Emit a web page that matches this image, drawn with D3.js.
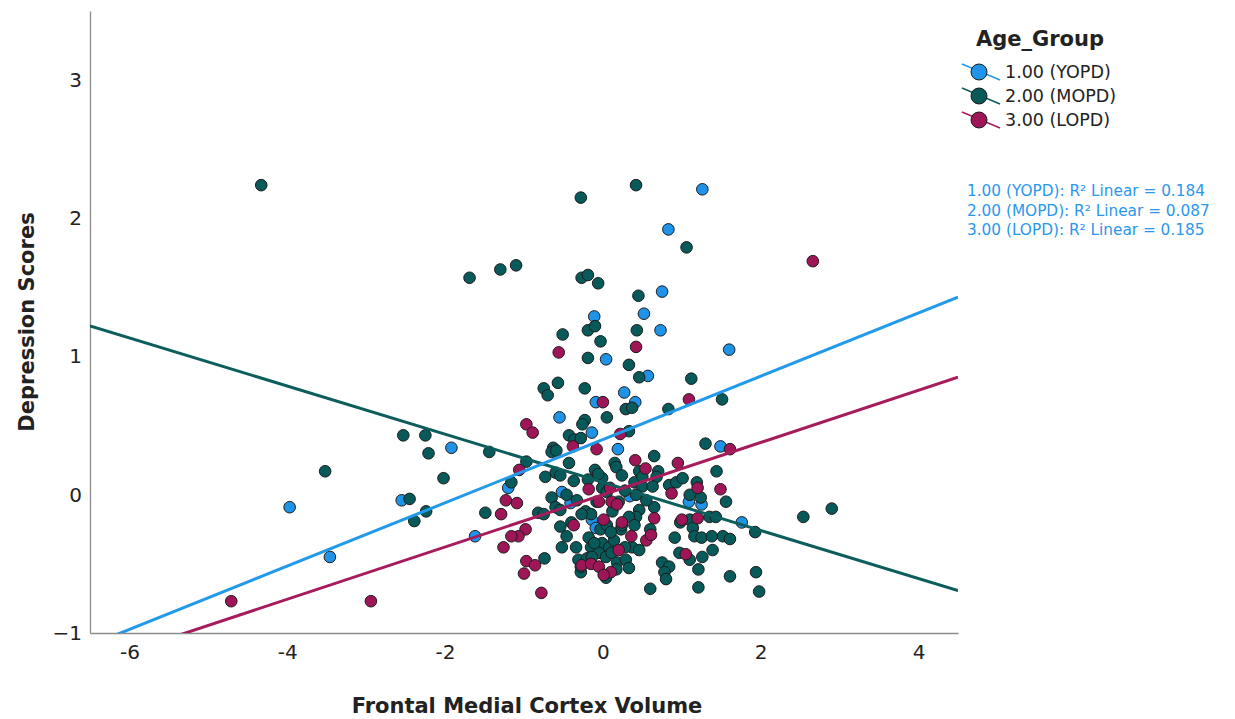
<!DOCTYPE html>
<html>
<head>
<meta charset="utf-8">
<script src="https://cdn.jsdelivr.net/npm/d3@7"></script>
<style>
  body { margin: 0; background: #fff; }
  svg { font-family: "DejaVu Sans", Verdana, sans-serif; }
</style>
</head>
<body>
<svg id="chart" width="1235" height="719"></svg>
<script>
// groups, in legend order
var groupLabels = ["1.00 (YOPD)", "2.00 (MOPD)", "3.00 (LOPD)"];
var groupColors = ["#1f93e8", "#07595a", "#9e1657"];
var lineColors = ["#2399eb", "#0c5d5c", "#a61b5b"];
var r2Values = ["0.184", "0.087", "0.185"];

// fitted lines (slope, intercept)
var fitSlope = [0.229, -0.1742, 0.189];
var fitIntercept = [0.40, 0.090, 0.0];

var xTicks = [-6, -4, -2, 0, 2, 4];
var yTicks = [-1, 0, 1, 2, 3];

// points [volume, depression]
var yopd = [[1.26,2.21],[0.83,1.92],[0.75,1.47],[0.52,1.31],[-0.11,1.29],[0.73,1.19],[0.04,0.98],[1.60,1.05],
  [0.57,0.86],[0.27,0.74],[-0.09,0.67],[0.41,0.67],[-0.55,0.56],[-0.14,0.45],[0.19,0.33],[-1.92,0.34],
  [1.49,0.35],[-1.20,0.05],[-0.52,0.02],[-0.41,-0.06],[-0.14,-0.18],[-0.09,-0.24],[0.34,-0.01],[1.09,-0.05],
  [1.25,-0.07],[1.76,-0.20],[-2.55,-0.04],[-3.97,-0.09],[-1.62,-0.30],[-3.46,-0.45]];

var mopd = [[-4.33,2.24],[-0.28,2.15],[0.42,2.24],[1.06,1.79],[-1.69,1.57],[-1.30,1.63],[-1.10,1.66],[-0.27,1.57],
  [-0.19,1.59],[-0.06,1.53],[0.45,1.44],[-0.19,1.19],[-0.10,1.22],[0.43,1.19],[-0.51,1.16],[-0.03,1.11],
  [-0.19,0.99],[0.33,0.94],[0.46,0.85],[1.12,0.84],[-0.57,0.81],[-0.75,0.77],[-0.70,0.72],[-0.23,0.77],
  [0.29,0.62],[0.37,0.63],[0.83,0.62],[1.51,0.69],[0.05,0.56],[-0.23,0.54],[-0.26,0.51],[0.33,0.46],
  [-0.43,0.43],[-0.36,0.40],[-0.28,0.41],[-0.63,0.34],[-0.65,0.31],[-0.59,0.32],[0.65,0.28],[1.30,0.37],
  [-0.97,0.24],[-0.43,0.23],[0.15,0.23],[0.17,0.20],[-0.10,0.18],[0.70,0.17],[0.46,0.17],[1.44,0.17],
  [-0.60,0.16],[-0.54,0.14],[-0.73,0.13],[0.24,0.14],[0.68,0.13],[-0.19,0.11],[-0.01,0.12],[0.40,0.09],
  [0.50,0.06],[0.63,0.06],[0.84,0.07],[0.93,0.09],[1.01,0.12],[1.19,0.09],[-1.16,0.09],[-0.46,0.00],
  [-0.65,-0.02],[-0.33,-0.04],[-0.01,0.05],[0.42,0.00],[1.10,0.00],[1.24,-0.02],[1.56,-0.05],[-0.60,-0.09],
  [-0.54,-0.11],[-1.49,-0.13],[-0.82,-0.13],[-0.75,-0.14],[-0.22,-0.12],[-0.15,-0.14],[0.46,-0.11],[0.65,-0.09],
  [0.42,-0.16],[1.35,-0.16],[1.43,-0.16],[1.10,-0.18],[1.14,-0.24],[2.54,-0.16],[2.90,-0.10],[-0.03,-0.25],
  [0.05,-0.22],[0.23,-0.25],[0.33,-0.16],[0.40,-0.22],[-0.54,-0.23],[-0.46,-0.30],[-0.52,-0.38],[-0.34,-0.38],
  [-0.18,-0.31],[-0.15,-0.38],[-0.01,-0.35],[0.08,-0.38],[0.14,-0.33],[0.37,-0.38],[0.46,-0.40],[0.91,-0.31],
  [1.16,-0.30],[1.25,-0.31],[1.38,-0.30],[1.52,-0.30],[1.61,-0.32],[1.93,-0.27],[1.39,-0.40],[1.10,-0.47],
  [1.26,-0.45],[-0.05,-0.42],[0.04,-0.45],[0.11,-0.42],[-0.31,-0.47],[-0.20,-0.46],[0.18,-0.49],[0.29,-0.47],
  [0.33,-0.53],[0.17,-0.54],[-0.28,-0.56],[0.04,-0.60],[-0.74,-0.46],[0.75,-0.49],[0.84,-0.52],[0.78,-0.56],
  [0.80,-0.61],[0.60,-0.68],[1.21,-0.54],[1.21,-0.67],[1.61,-0.59],[1.94,-0.56],[1.98,-0.70],[-2.53,0.43],
  [-2.25,0.43],[-2.21,0.30],[-1.44,0.31],[-2.02,0.12],[-2.45,-0.03],[-2.24,-0.12],[-2.39,-0.19],[-3.52,0.17],
  [0.98,-0.20],[0.55,-0.04],[0.97,-0.42],[0.24,-0.22],[-0.27,-0.14],[-0.11,-0.35],[0.10,-0.27],[-0.14,-0.45],
  [-0.28,-0.52],[0.50,0.13],[-0.06,0.15],[0.05,0.02],[0.20,-0.05],[-0.37,0.10],[0.28,0.03],[0.12,-0.12],
  [-0.08,-0.05],[0.60,-0.25],[-0.40,-0.20],[0.28,-0.38]];

var lopd = [[0.42,1.07],[-0.56,1.03],[0.00,0.67],[1.09,0.69],[-0.97,0.51],[-0.89,0.45],[0.22,0.44],[-0.38,0.35],
  [-0.08,0.33],[0.41,0.25],[0.54,0.19],[0.95,0.23],[1.61,0.33],[-1.06,0.18],[-0.18,0.04],[0.09,0.05],
  [0.87,0.01],[1.20,0.05],[1.49,0.04],[-0.05,-0.05],[0.11,-0.05],[0.18,-0.07],[-1.23,-0.04],[-1.09,-0.06],
  [-1.29,-0.14],[0.01,-0.18],[0.24,-0.20],[-0.37,-0.22],[0.65,-0.17],[1.00,-0.18],[1.20,-0.17],[-0.98,-0.25],
  [-1.07,-0.30],[-1.16,-0.30],[-1.26,-0.38],[0.36,-0.30],[0.55,-0.33],[0.61,-0.29],[0.20,-0.40],[1.05,-0.43],
  [-0.97,-0.48],[-0.86,-0.51],[-1.00,-0.57],[-0.78,-0.71],[-0.27,-0.51],[-0.15,-0.50],[-0.05,-0.52],[0.10,-0.56],
  [0.01,-0.58],[-4.71,-0.77],[-2.94,-0.77],[2.66,1.69]];

var groupPoints = [yopd, mopd, lopd];
var drawOrder = [0, 1, 2];

function buildChart(id) {
  var svg = d3.select(id);
  svg.selectAll("*").remove();

  var plot = { left: 90, right: 958, top: 11, bottom: 633 };

  var x = d3.scaleLinear().domain([-6.5, 4.5]).range([plot.left, plot.right]);
  var y = d3.scaleLinear().domain([-1, 3.5]).range([plot.bottom, plot.top]);

  svg.append("defs").append("clipPath").attr("id", "plotClip")
    .append("rect")
      .attr("x", plot.left).attr("y", plot.top)
      .attr("width", plot.right - plot.left).attr("height", plot.bottom - plot.top);

  // axes: plain lines, labels only
  var xAxis = d3.axisBottom(x).tickValues(xTicks).tickSize(0).tickPadding(12)
    .tickFormat(function(d) { return d < 0 ? "-" + Math.abs(d) : d; });
  var gx = svg.append("g").attr("transform", "translate(0," + plot.bottom + ")").call(xAxis);
  gx.select(".domain").attr("stroke", "#8c8c8c").attr("stroke-width", 1.3);
  gx.selectAll("text").attr("font-size", 20).attr("fill", "#222")
    .attr("font-family", "'DejaVu Sans', sans-serif");

  var yAxis = d3.axisLeft(y).tickValues(yTicks).tickSize(0).tickPadding(8)
    .tickFormat(d3.format("d"));
  var gy = svg.append("g").attr("transform", "translate(" + plot.left + ",0)").call(yAxis);
  gy.select(".domain").attr("stroke", "#8c8c8c").attr("stroke-width", 1.3);
  gy.selectAll("text").attr("font-size", 20).attr("fill", "#222")
    .attr("font-family", "'DejaVu Sans', sans-serif");

  // axis titles
  svg.append("text")
    .attr("x", 527).attr("y", 713)
    .attr("text-anchor", "middle")
    .attr("font-size", 21).attr("font-weight", "bold").attr("fill", "#222")
    .text("Frontal Medial Cortex Volume");

  svg.append("text")
    .attr("transform", "translate(34,322) rotate(-90)")
    .attr("text-anchor", "middle")
    .attr("font-size", 21).attr("font-weight", "bold").attr("fill", "#222")
    .text("Depression Scores");

  // points
  var pts = svg.append("g").attr("clip-path", "url(#plotClip)");
  drawOrder.forEach(function(g) {
    pts.selectAll(null)
      .data(groupPoints[g])
      .enter().append("circle")
        .attr("cx", function(d) { return x(d[0]); })
        .attr("cy", function(d) { return y(d[1]); })
        .attr("r", 5.8)
        .attr("fill", groupColors[g])
        .attr("stroke", "#1c1c1c")
        .attr("stroke-width", 1);
  });

  // fit lines on top
  var lines = svg.append("g").attr("clip-path", "url(#plotClip)");
  var xd = x.domain();
  [1, 0, 2].forEach(function(g) {
    var seg = xd.map(function(v) { return [v, fitIntercept[g] + fitSlope[g] * v]; });
    lines.append("path")
      .attr("d", d3.line().x(function(d) { return x(d[0]); }).y(function(d) { return y(d[1]); })(seg))
      .attr("fill", "none")
      .attr("stroke", lineColors[g])
      .attr("stroke-width", 3);
  });

  // legend
  var legend = svg.append("g");
  legend.append("text")
    .attr("x", 976).attr("y", 46)
    .attr("font-size", 21).attr("font-weight", "bold").attr("fill", "#222")
    .text("Age_Group");

  groupLabels.forEach(function(label, i) {
    var cy = 72 + i * 24;
    legend.append("line")
      .attr("x1", 962).attr("y1", cy - 8)
      .attr("x2", 1000).attr("y2", cy + 8)
      .attr("stroke", lineColors[i]).attr("stroke-width", 1.5);
    legend.append("circle")
      .attr("cx", 979).attr("cy", cy).attr("r", 8)
      .attr("fill", groupColors[i]).attr("stroke", "#1c1c1c").attr("stroke-width", 1);
    legend.append("text")
      .attr("x", 1005).attr("y", cy + 6)
      .attr("font-size", 17.5).attr("fill", "#222")
      .text(label);
  });

  // R squared notes
  var notes = svg.append("g");
  groupLabels.forEach(function(label, i) {
    notes.append("text")
      .attr("x", 967).attr("y", 196 + i * 19.5)
      .attr("font-size", 15.3).attr("fill", "#2a97ee")
      .text(label + ": R\u00b2 Linear = " + r2Values[i]);
  });
}

buildChart("#chart");
</script>
</body>
</html>
